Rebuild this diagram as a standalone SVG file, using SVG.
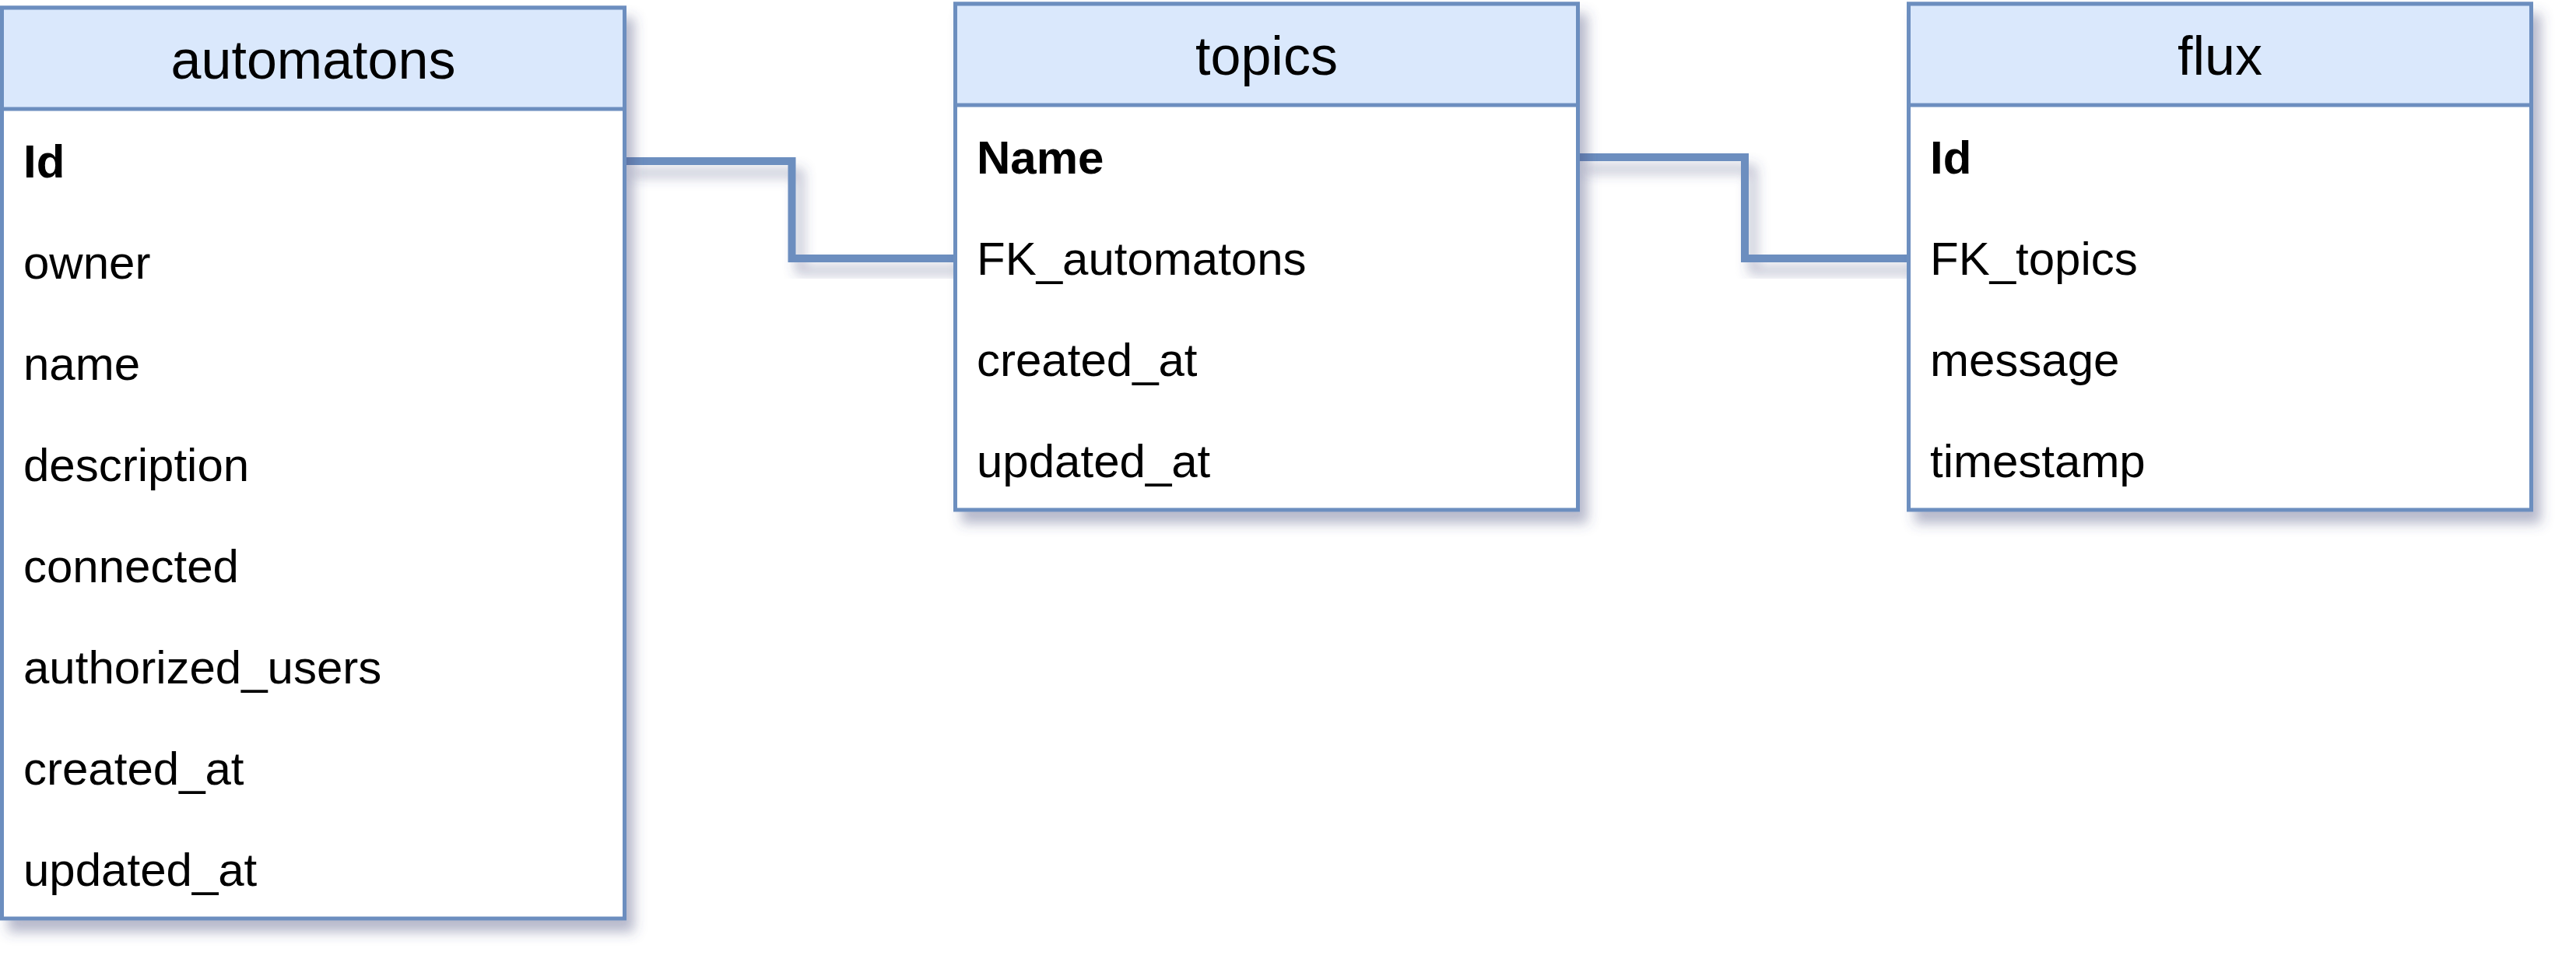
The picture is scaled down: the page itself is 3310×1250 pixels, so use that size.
<svg xmlns="http://www.w3.org/2000/svg" width="3310" height="1250" viewBox="0 0 3310 1250">
<defs>
<filter id="sh" x="-10%" y="-10%" width="130%" height="130%">
<feDropShadow dx="10" dy="15" stdDeviation="8" flood-color="#3c4678" flood-opacity="0.38"/>
</filter>
</defs>
<style>
.tbl{fill:#ffffff;stroke:#6c8ebf;stroke-width:5}
.hdr{fill:#dae8fc;stroke:#6c8ebf;stroke-width:5}
.title{font-family:"Liberation Sans",Arial,sans-serif;font-size:70px;fill:#000;text-anchor:middle}
.fld{font-family:"Liberation Sans",Arial,sans-serif;font-size:60px;fill:#000}
.pk{font-weight:bold}
.conn{fill:none;stroke:#6c8ebf;stroke-width:10}
</style>
<rect width="3310" height="1250" fill="#ffffff"/>
<g id="connectors" filter="url(#sh)">
<path class="conn" d="M802.5 207 H1017.5 V332 H1227.5"/>
<path class="conn" d="M2027.5 202 H2242 V332 H2452.5"/>
</g>
<g id="automatons">
<g filter="url(#sh)">
<rect class="tbl" x="2.5" y="10" width="800" height="1170"/>
</g>
<rect class="hdr" x="2.5" y="10" width="800" height="130"/>
<text class="title" x="402.5" y="101">automatons</text>
<text class="fld pk" x="30" y="228">Id</text>
<text class="fld" x="30" y="358">owner</text>
<text class="fld" x="30" y="488">name</text>
<text class="fld" x="30" y="618">description</text>
<text class="fld" x="30" y="748">connected</text>
<text class="fld" x="30" y="878">authorized_users</text>
<text class="fld" x="30" y="1008">created_at</text>
<text class="fld" x="30" y="1138">updated_at</text>
</g>
<g id="topics">
<g filter="url(#sh)">
<rect class="tbl" x="1227.5" y="5" width="800" height="650"/>
</g>
<rect class="hdr" x="1227.5" y="5" width="800" height="130"/>
<text class="title" x="1627.5" y="96">topics</text>
<text class="fld pk" x="1255" y="223">Name</text>
<text class="fld" x="1255" y="353">FK_automatons</text>
<text class="fld" x="1255" y="483">created_at</text>
<text class="fld" x="1255" y="613">updated_at</text>
</g>
<g id="flux">
<g filter="url(#sh)">
<rect class="tbl" x="2452.5" y="5" width="800" height="650"/>
</g>
<rect class="hdr" x="2452.5" y="5" width="800" height="130"/>
<text class="title" x="2852.5" y="96">flux</text>
<text class="fld pk" x="2480" y="223">Id</text>
<text class="fld" x="2480" y="353">FK_topics</text>
<text class="fld" x="2480" y="483">message</text>
<text class="fld" x="2480" y="613">timestamp</text>
</g>
</svg>
